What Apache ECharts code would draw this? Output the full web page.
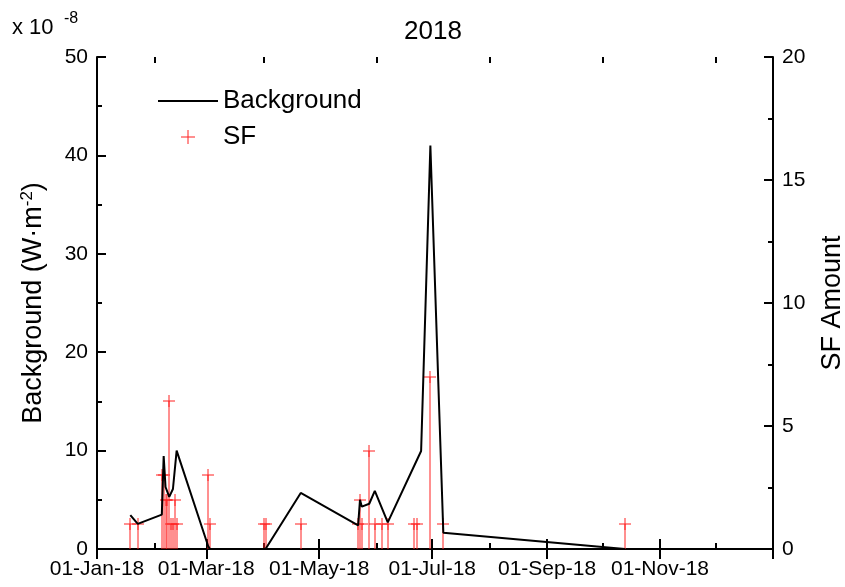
<!DOCTYPE html>
<html>
<head>
<meta charset="utf-8">
<script src="https://cdn.jsdelivr.net/npm/echarts@6/dist/echarts.min.js"></script>
<style>
html,body{margin:0;padding:0;background:#fff;}
#chart{width:845px;height:587px;}
</style>
</head>
<body>
<div id="chart"></div>
<script>
// ---- data ----
const bgDates = ['2018-01-19','2018-01-23','2018-02-05','2018-02-06','2018-02-07','2018-02-09','2018-02-11','2018-02-13',
  '2018-03-02','2018-03-03','2018-04-02','2018-04-21','2018-05-22','2018-05-23','2018-05-24','2018-05-28','2018-05-31','2018-06-07',
  '2018-06-25','2018-06-30','2018-07-07','2018-10-13'];
const bgValues = [3.45,2.55,3.5,9.45,6.3,5.3,6.1,10.0,
  0.3,0.0,0.0,5.7,2.4,5.0,4.3,4.6,5.9,2.7,
  9.96,41.0,1.65,0.0];

const sfDates = ['2018-01-19','2018-01-23','2018-02-05','2018-02-06','2018-02-07','2018-02-08','2018-02-09','2018-02-10',
  '2018-02-11','2018-02-12','2018-02-13','2018-03-02','2018-03-03','2018-04-01','2018-04-02','2018-04-21',
  '2018-05-22','2018-05-23','2018-05-24','2018-05-28','2018-05-31','2018-06-04','2018-06-07','2018-06-21','2018-06-23',
  '2018-06-30','2018-07-07','2018-10-13'];
const sfValues = [1,1,3,3,2,2,6,1,
  1,2,1,3,1,1,1,1,
  1,2,1,4,1,1,1,1,1,
  7,1,1];

const majorTickDates = ['2018-01-01','2018-03-01','2018-05-01','2018-07-01','2018-09-01','2018-11-01','2019-01-01'];
const labelDates = ['2018-01-01','2018-03-01','2018-05-01','2018-07-01','2018-09-01','2018-11-01'];
const minorTickDates = ['2018-02-01','2018-04-01','2018-06-01','2018-08-01','2018-10-01','2018-12-01'];
const monthNames = ['Jan','Feb','Mar','Apr','May','Jun','Jul','Aug','Sep','Oct','Nov','Dec'];

// ---- helpers ----
function ts(s){ const p = s.split('-').map(Number); return new Date(p[0], p[1]-1, p[2]).getTime(); }
function fmt(v){ const d = new Date(v); return String(d.getDate()).padStart(2,'0') + '-' + monthNames[d.getMonth()] + '-' + String(d.getFullYear()).slice(2); }

const FONT = 'Liberation Sans, Arial, sans-serif';
const RED = '#ff2020';
const xMin = ts('2018-01-01'), xMax = ts('2019-01-01');
const bgData = bgDates.map((d,i)=>[ts(d), bgValues[i]]);
const sfData = sfDates.map((d,i)=>[ts(d), sfValues[i]]);

const gridBox = {left:97, right:72, top:57, bottom:38, containLabel:false, outerBoundsMode:'none'};
const axisLine = {show:true, lineStyle:{color:'#000', width:2}};

const chart = echarts.init(document.getElementById('chart'));
chart.setOption({
  backgroundColor:'#fff',
  animation:false,
  title:{text:'2018', left:428, top:14, textAlign:'center',
    textStyle:{fontFamily:FONT, fontSize:26, fontWeight:'normal', color:'#000'}},
  graphic:[
    {type:'text', left:12, top:17, style:{text:'x 10', fontFamily:FONT, fontSize:22, fill:'#000'}},
    {type:'text', left:64, top:11, style:{text:'-8', fontFamily:FONT, fontSize:16, fill:'#000'}}
  ],
  legend:{orient:'vertical', left:153, top:83, itemWidth:60, itemHeight:14, itemGap:10,
    textStyle:{fontFamily:FONT, fontSize:26, color:'#000'},
    data:[{name:'Background', icon:'path://M0,0L60,0L60,2L0,2Z', itemStyle:{color:'#000', borderWidth:0}},
          {name:'SF', icon:'path://M6,0L6,12M0,6L12,6', itemStyle:{color:'none', borderColor:RED, borderWidth:1}}]},
  grid:[Object.assign({}, gridBox), Object.assign({}, gridBox)],
  xAxis:[
    {type:'value', gridIndex:0, position:'bottom', min:xMin, max:xMax, axisLine:axisLine, splitLine:{show:false},
      axisTick:{show:true, inside:true, length:10, lineStyle:{color:'#000', width:2}, customValues:majorTickDates.map(ts)},
      axisLabel:{show:true, margin:10, fontFamily:FONT, fontSize:21, color:'#000', formatter:fmt, customValues:labelDates.map(ts)}},
    {type:'value', gridIndex:0, position:'top', min:xMin, max:xMax, axisLine:axisLine, splitLine:{show:false},
      axisTick:{show:true, inside:true, length:10, lineStyle:{color:'#000', width:2}, customValues:majorTickDates.map(ts)},
      axisLabel:{show:false}},
    {type:'value', gridIndex:1, position:'bottom', min:xMin, max:xMax, axisLine:{show:false}, splitLine:{show:false},
      axisTick:{show:true, inside:true, length:6, lineStyle:{color:'#000', width:2}, customValues:minorTickDates.map(ts)},
      axisLabel:{show:false}},
    {type:'value', gridIndex:1, position:'top', min:xMin, max:xMax, axisLine:{show:false}, splitLine:{show:false},
      axisTick:{show:true, inside:true, length:6, lineStyle:{color:'#000', width:2}, customValues:minorTickDates.map(ts)},
      axisLabel:{show:false}}
  ],
  yAxis:[
    {type:'value', gridIndex:0, position:'left', min:0, max:50, interval:10, axisLine:axisLine, splitLine:{show:false},
      axisTick:{show:true, inside:true, length:9, lineStyle:{color:'#000', width:2}},
      minorTick:{show:true, splitNumber:2, length:5, lineStyle:{color:'#000', width:2}},
      axisLabel:{margin:9, fontFamily:FONT, fontSize:21, color:'#000'},
      name:'{a|Background (W·m}{s|-2}{a|)}', nameLocation:'middle', nameGap:48,
      nameTextStyle:{rich:{a:{fontFamily:FONT,fontSize:27,color:'#000'}, s:{fontFamily:FONT,fontSize:17,color:'#000',verticalAlign:'top',padding:[0,0,13,0]}}}},
    {type:'value', gridIndex:0, position:'right', min:0, max:20, interval:5, axisLine:axisLine, splitLine:{show:false},
      axisTick:{show:true, inside:true, length:9, lineStyle:{color:'#000', width:2}},
      minorTick:{show:true, splitNumber:2, length:5, lineStyle:{color:'#000', width:2}},
      axisLabel:{margin:9, fontFamily:FONT, fontSize:21, color:'#000'},
      name:'SF Amount', nameLocation:'middle', nameGap:46,
      nameTextStyle:{fontFamily:FONT, fontSize:27, color:'#000'}},
    {type:'value', gridIndex:1, min:0, max:50, show:false}
  ],
  series:[
    {name:'SF', type:'custom', xAxisIndex:0, yAxisIndex:1, data:sfData, z:2, clip:false,
      itemStyle:{color:RED},
      renderItem:function(params, api){
        const top = api.coord([api.value(0), api.value(1)]);
        const base = api.coord([api.value(0), 0]);
        const x = Math.round(top[0]);
        const y = Math.round(top[1]);
        const s = {stroke:RED, fill:null, lineWidth:1};
        return {type:'group', children:[
          {type:'polyline', shape:{points:[[x, base[1]], [x, y]]}, style:s},
          {type:'polyline', shape:{points:[[x-6, y], [x+6, y]]}, style:s},
          {type:'polyline', shape:{points:[[x, y-6], [x, y+6]]}, style:s}
        ]};
      }},
    {name:'Background', type:'line', xAxisIndex:0, yAxisIndex:0, data:bgData, z:3,
      showSymbol:false, symbol:'none', lineStyle:{color:'#000', width:2}, itemStyle:{color:'#000'}}
  ]
});
</script>
</body>
</html>
